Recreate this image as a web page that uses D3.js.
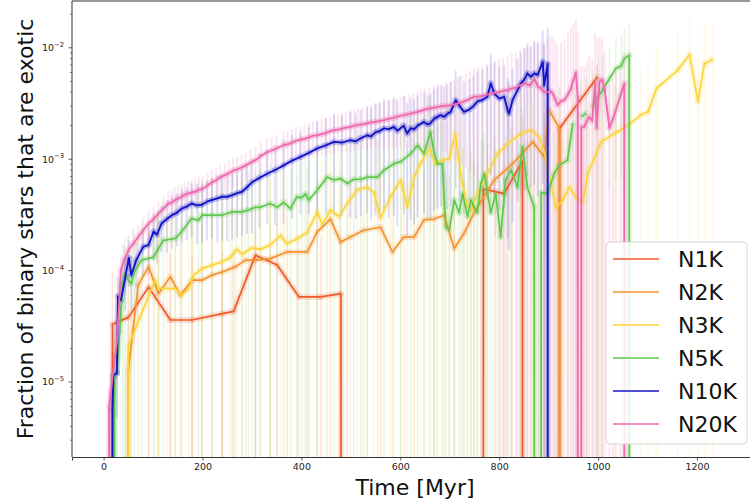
<!DOCTYPE html>
<html><head><meta charset="utf-8">
<script src="https://cdnjs.cloudflare.com/ajax/libs/d3/7.8.5/d3.min.js"></script>
<style>body{margin:0;background:#fff;} svg{display:block;font-family:"DejaVu Sans",sans-serif;}</style>
</head><body><svg id="chart" width="750" height="503"></svg>
<script>
// ---------- data: [time Myr, fraction, relative error] ----------
const seriesNames = ["N1K","N2K","N3K","N5K","N10K","N20K"];
const seriesColors = ["#f05a28","#f5922f","#fcd535","#5ec84a","#1414c8","#ef6aae"];

const N1K = [[0,0,0],[18,3.3e-5,2.0],[50,3.8e-5,2.5],[91,7.1e-5,2.2],[135,3.6e-5,3.0],[179,3.6e-5,2.8],[240,4.1e-5,2.6],[263,4.3e-5,2.6],[307,1.37e-4,1.8],[351,1.12e-4,2.0],[395,5.8e-5,2.4],[439,5.8e-5,2.5],[480,6.2e-5,2.2],[485,0,0],[763,0,0],[768,5.4e-4,1.6],[810,4.9e-4,1.8],[847,9.6e-4,1.5],[852,0,0],[917,0,0],[922,1.89e-3,1.4],[999,5.5e-3,1.2]];

const N2K = [[0,0,0],[50,1.26e-5,2.5],[70,7.4e-5,2.0],[91,1.08e-4,1.8],[111,6.2e-5,2.5],[135,8.8e-5,2.2],[155,6.0e-5,2.6],[179,8.2e-5,2.3],[199,8.2e-5,2.2],[219,9.1e-5,2.4],[240,9.7e-5,2.2],[266,1.08e-4,2.3],[287,1.24e-4,2.0],[307,1.24e-4,2.1],[337,1.28e-4,2.2],[371,1.47e-4,2.0],[412,1.47e-4,2.1],[432,2.22e-4,1.8],[459,2.9e-4,1.7],[479,1.8e-4,2.2],[499,2.0e-4,2.0],[526,2.3e-4,1.9],[560,2.45e-4,1.9],[584,1.47e-4,2.4],[607,2.0e-4,2.1],[628,2.0e-4,2.0],[648,2.85e-4,1.8],[668,2.9e-4,1.8],[689,3.14e-4,1.7],[709,1.58e-4,2.4],[729,2.16e-4,2.0],[749,3.3e-4,1.8],[790,6.5e-4,1.5],[827,9.1e-4,1.4],[868,1.43e-3,1.3],[891,1.05e-3,1.5],[901,2.76e-3,1.1],[922,1.89e-3,1.3],[926,0,0]];

const N3K = [[0,0,0],[50,2.1e-5,3],[104,8.2e-5,3],[111,6.9e-5,3.5],[128,6.9e-5,3.5],[145,6.9e-5,3.5],[157,6.0e-5,4],[172,6.9e-5,3.5],[182,9.1e-5,3],[199,1.04e-4,3],[219,1.12e-4,3.2],[240,1.2e-4,3.2],[255,1.3e-4,3],[270,1.55e-4,3],[280,1.4e-4,3.4],[300,1.6e-4,3],[317,1.55e-4,3.2],[337,1.7e-4,3],[358,2.07e-4,2.8],[371,1.74e-4,3],[391,1.93e-4,3],[412,2.2e-4,2.8],[432,3.36e-4,2.4],[442,2.6e-4,2.8],[459,3.5e-4,2.5],[476,3.05e-4,2.6],[493,4.0e-4,2.4],[513,5.3e-4,2.2],[533,5.6e-4,2.2],[547,5.0e-4,2.3],[560,2.95e-4,3],[580,4.6e-4,2.5],[601,6.5e-4,2.2],[614,3.7e-4,2.8],[628,6.9e-4,2.2],[641,9.1e-4,2],[658,1.25e-3,1.8],[671,9.1e-4,2],[685,9.8e-4,2],[699,1.0e-3,2],[711,1.7e-3,1.6],[723,6.9e-4,2.2],[736,3.7e-4,2.8],[743,3.5e-4,2.8],[756,4.9e-4,2.5],[776,7.4e-4,2.2],[797,1.12e-3,1.9],[817,1.38e-3,1.8],[844,1.7e-3,1.6],[864,1.83e-3,1.6],[881,1.58e-3,1.7],[894,1.05e-3,2],[915,3.6e-4,2.8],[928,4.3e-4,2.6],[942,5.6e-4,2.4],[955,4.6e-4,2.6],[969,4.1e-4,2.8],[979,7.4e-4,2.2],[1006,1.43e-3,1.8],[1033,1.7e-3,1.7],[1060,2.0e-3,1.6],[1087,2.5e-3,1.5],[1101,2.66e-3,1.5],[1118,4.3e-3,1.3],[1161,6.3e-3,1.2],[1185,8.7e-3,1.1],[1202,3.27e-3,1.6],[1215,7.2e-3,1.2],[1232,7.9e-3,1.1]];

const N5K = [[0,0,0],[22,1.15e-5,1.5],[27,1.2e-5,1.5],[39,7.9e-5,1.2],[43,9.1e-5,1.2],[56,7.6e-5,1.3],[62,9.7e-5,1.2],[77,1.24e-4,1.2],[101,1.32e-4,1.3],[111,1.58e-4,1.2],[121,1.87e-4,1.2],[145,1.94e-4,1.3],[158,2.24e-4,1.2],[178,2.93e-4,1.1],[192,2.83e-4,1.2],[199,3.14e-4,1.1],[219,3.14e-4,1.2],[239,3.14e-4,1.2],[260,3.36e-4,1.2],[280,3.36e-4,1.2],[293,3.5e-4,1.2],[307,3.7e-4,1.2],[317,3.7e-4,1.2],[337,4.0e-4,1.2],[351,3.7e-4,1.3],[364,4.1e-4,1.2],[378,3.6e-4,1.3],[391,4.6e-4,1.2],[401,4.5e-4,1.2],[408,4.9e-4,1.2],[415,4.3e-4,1.3],[432,5.26e-4,1.2],[452,6.9e-4,1.1],[466,6.5e-4,1.2],[479,6.7e-4,1.2],[493,6.05e-4,1.3],[506,6.6e-4,1.2],[520,6.6e-4,1.2],[533,6.9e-4,1.2],[554,6.9e-4,1.2],[567,7.95e-4,1.2],[587,9.1e-4,1.2],[601,9.5e-4,1.2],[621,1.12e-3,1.2],[635,1.33e-3,1.1],[648,1.12e-3,1.2],[661,1.76e-3,1.1],[668,1.16e-3,1.2],[675,9.1e-4,1.3],[685,9.1e-4,1.3],[692,2.45e-4,2],[699,2.3e-4,2],[709,4.3e-4,1.6],[719,3.3e-4,1.8],[726,4.9e-4,1.6],[736,3.05e-4,1.8],[743,4.3e-4,1.6],[749,3.7e-4,1.7],[756,3.3e-4,1.8],[763,6.05e-4,1.5],[770,7.4e-4,1.4],[776,5.1e-4,1.6],[783,3.3e-4,1.8],[793,4.9e-4,1.6],[803,2.0e-4,2.2],[813,6.5e-4,1.5],[824,8.0e-4,1.4],[837,5.6e-4,1.6],[847,1.29e-3,1.2],[857,5.6e-4,1.6],[871,3.7e-4,1.8],[878,0,0],[885,5.0e-4,1.6],[898,4.9e-4,1.6],[911,7.4e-4,1.4],[921,8.8e-4,1.4],[938,9.8e-4,1.3],[949,2.1e-3,1.1],[957,null,0],[966,2.4e-3,1.1],[976,2.6e-3,1.1],[983,null,0],[989,2.95e-3,1.1],[999,3.6e-3,1.0],[1009,4.16e-3,1.0],[1023,5.3e-3,0.9],[1036,6.5e-3,0.9],[1047,6.9e-3,0.9],[1053,8.0e-3,0.9],[1063,8.6e-3,0.9],[1067,0,0]];

const N10K = [[0,0,0],[18,5.6e-6,0.6],[20,1.15e-5,0.6],[27,1.2e-5,0.6],[29,5.9e-5,0.5],[35,5.4e-5,0.5],[44,8.8e-5,0.5],[51,1.3e-4,0.45],[56,9.1e-5,0.5],[66,1.24e-4,0.45],[80,1.63e-4,0.45],[91,1.7e-4,0.45],[101,2.24e-4,0.45],[108,2.1e-4,0.45],[117,2.64e-4,0.45],[128,2.9e-4,0.5],[138,3.14e-4,0.5],[148,3.3e-4,0.5],[158,3.6e-4,0.5],[168,3.75e-4,0.5],[178,4.0e-4,0.5],[189,3.85e-4,0.55],[199,3.9e-4,0.55],[209,4.15e-4,0.55],[219,4.3e-4,0.55],[230,4.45e-4,0.6],[240,4.6e-4,0.6],[250,4.6e-4,0.6],[260,4.75e-4,0.6],[270,4.95e-4,0.6],[280,5.1e-4,0.6],[290,5.6e-4,0.62],[300,6.2e-4,0.65],[315,6.8e-4,0.65],[331,7.4e-4,0.65],[347,8.0e-4,0.68],[364,8.8e-4,0.7],[381,9.7e-4,0.7],[398,1.05e-3,0.7],[415,1.14e-3,0.72],[432,1.25e-3,0.75],[449,1.33e-3,0.76],[466,1.43e-3,0.78],[482,1.41e-3,0.78],[499,1.48e-3,0.8],[510,1.45e-3,0.8],[520,1.54e-3,0.8],[533,1.64e-3,0.8],[541,1.6e-3,0.82],[550,1.75e-3,0.82],[558,1.78e-3,0.82],[567,1.89e-3,0.82],[577,1.86e-3,0.84],[587,1.95e-3,0.84],[594,1.8e-3,0.86],[607,2.0e-3,0.84],[614,1.7e-3,0.88],[621,1.9e-3,0.85],[628,1.85e-3,0.86],[635,2.0e-3,0.85],[648,2.16e-3,0.85],[655,2.05e-3,0.86],[661,2.1e-3,0.86],[668,2.3e-3,0.85],[675,2.4e-3,0.85],[682,2.48e-3,0.85],[689,2.4e-3,0.87],[695,2.55e-3,0.86],[702,2.66e-3,0.86],[712,3.39e-3,0.84],[720,3.0e-3,0.86],[729,2.66e-3,0.88],[740,2.8e-3,0.88],[748,3.0e-3,0.88],[756,3.3e-3,0.87],[766,3.4e-3,0.88],[776,3.63e-3,0.88],[783,4.8e-3,0.85],[790,3.9e-3,0.88],[800,3.5e-3,0.9],[810,3.63e-3,0.9],[817,2.76e-3,0.93],[820,2.57e-3,0.94],[827,3.39e-3,0.92],[837,4.17e-3,0.9],[844,4.8e-3,0.9],[851,5.2e-3,0.9],[857,5.9e-3,0.88],[864,5.5e-3,0.9],[871,5.9e-3,0.9],[878,5.7e-3,0.92],[888,7.5e-3,0.92],[891,4.6e-3,1.3],[898,7.2e-3,1.1],[901,0,0]];

const N20K = [[0,0,0],[11,5.9e-6,0.5],[18,1.1e-5,0.5],[27,2.3e-5,0.45],[35,1.0e-4,0.4],[42,1.25e-4,0.35],[50,1.52e-4,0.35],[60,1.75e-4,0.35],[70,2.0e-4,0.3],[80,2.3e-4,0.3],[91,2.64e-4,0.3],[101,2.9e-4,0.3],[111,3.25e-4,0.3],[121,3.6e-4,0.3],[131,4.0e-4,0.3],[138,4.1e-4,0.3],[145,4.3e-4,0.3],[151,4.45e-4,0.3],[158,4.6e-4,0.3],[164,4.8e-4,0.3],[171,4.9e-4,0.3],[178,5.0e-4,0.3],[185,5.1e-4,0.3],[192,5.3e-4,0.3],[200,5.4e-4,0.3],[210,5.8e-4,0.3],[219,6.2e-4,0.3],[228,6.5e-4,0.3],[236,6.9e-4,0.3],[245,7.2e-4,0.3],[253,7.5e-4,0.3],[262,7.9e-4,0.3],[270,8.1e-4,0.3],[279,8.4e-4,0.3],[287,8.8e-4,0.3],[297,9.3e-4,0.32],[307,9.8e-4,0.32],[318,1.07e-3,0.32],[330,1.15e-3,0.32],[340,1.2e-3,0.32],[350,1.25e-3,0.32],[364,1.34e-3,0.33],[372,1.36e-3,0.33],[380,1.4e-3,0.33],[389,1.46e-3,0.33],[398,1.5e-3,0.34],[406,1.52e-3,0.34],[415,1.57e-3,0.35],[423,1.62e-3,0.35],[432,1.64e-3,0.35],[441,1.68e-3,0.36],[450,1.72e-3,0.36],[458,1.78e-3,0.37],[466,1.82e-3,0.37],[474,1.84e-3,0.38],[482,1.88e-3,0.38],[490,1.92e-3,0.39],[499,1.95e-3,0.4],[507,2.0e-3,0.4],[515,2.03e-3,0.4],[524,2.06e-3,0.41],[533,2.1e-3,0.42],[541,2.14e-3,0.42],[550,2.17e-3,0.43],[558,2.2e-3,0.44],[567,2.24e-3,0.45],[576,2.3e-3,0.45],[585,2.35e-3,0.46],[592,2.4e-3,0.47],[600,2.45e-3,0.48],[609,2.5e-3,0.49],[618,2.55e-3,0.5],[626,2.6e-3,0.51],[635,2.66e-3,0.52],[642,2.72e-3,0.54],[650,2.8e-3,0.55],[659,2.85e-3,0.56],[668,2.9e-3,0.58],[676,2.95e-3,0.59],[685,3.0e-3,0.6],[693,3.02e-3,0.62],[702,3.05e-3,0.65],[709,3.1e-3,0.68],[716,3.16e-3,0.7],[724,3.25e-3,0.72],[733,3.35e-3,0.75],[741,3.5e-3,0.78],[749,3.63e-3,0.8],[758,3.65e-3,0.82],[766,3.7e-3,0.85],[775,3.8e-3,0.88],[783,3.9e-3,0.9],[792,3.95e-3,0.95],[800,4.0e-3,1.0],[808,4.1e-3,1.0],[817,4.16e-3,1.0],[825,4.3e-3,1.05],[834,4.4e-3,1.1],[842,4.6e-3,1.1],[851,4.8e-3,1.1],[857,4.7e-3,1.15],[863,4.6e-3,1.2],[871,5.3e-3,1.2],[878,4.5e-3,1.5],[885,4.3e-3,1.6],[891,4.0e-3,1.8],[898,4.0e-3,2.0],[903,4.1e-3,2.1],[908,3.9e-3,2.2],[913,3.5e-3,2.3],[918,3.05e-3,2.5],[925,3.3e-3,2.4],[932,3.4e-3,2.5],[939,3.8e-3,2.6],[945,4.3e-3,2.5],[950,5.1e-3,2.2],[955,6.0e-3,2.0],[959,3.6e-3,2.8],[962,0,0],[966,1.95e-3,2.5],[972,1.95e-3,2.5],[977,2.2e-3,2.5],[982,2.4e-3,2.5],[988,2.2e-3,2.6],[994,4.8e-3,1.8],[997,1.9e-3,2.6],[1003,5.0e-3,1.5],[1008,5.2e-3,1.4],[1013,4.3e-3,1.2],[1023,1.9e-3,1.5],[1030,2.3e-3,1.3],[1036,2.75e-3,1.2],[1045,3.7e-3,1.0],[1053,4.8e-3,0.9],[1056,0,0]];

const seriesData = [N1K, N2K, N3K, N5K, N10K, N20K];
const xTicks = [0,200,400,600,800,1000,1200];
const yTickExponents = [-5,-4,-3,-2];
const xLabel = "Time [Myr]";
const yLabel = "Fraction of binary stars that are exotic";

// ---------- layout ----------
const L = 72, R = 758, T = 1, B = 457;
const svg = d3.select("#chart");
const x = d3.scaleLinear().domain([-63.9, 1323.4]).range([L, R]);
const y = d3.scaleLog().domain([2.12e-6, 2.63e-2]).range([B, T]);
const tiny = 1e-100;
const yv = v => y(v > 0 ? v : tiny);

svg.append("defs").append("clipPath").attr("id","clip")
  .append("rect").attr("x",L).attr("y",T).attr("width",R-L).attr("height",B-T);

const plot = svg.append("g").attr("clip-path","url(#clip)");

// error bars
const barOpacity = [0.14, 0.14, 0.16, 0.14, 0.14, 0.17];
seriesData.forEach((data, i) => {
  const g = plot.append("g");
  data.filter(d => d[1] > 0 && d[2] > 0).forEach(d => {
    const hi = d[1]*(1+d[2]);
    const lo = d[1]*(1-d[2]);
    g.append("line")
      .attr("x1", x(d[0])).attr("x2", x(d[0]))
      .attr("y1", y(hi)).attr("y2", lo > 0 ? y(lo) : B+5)
      .attr("stroke", seriesColors[i])
      .attr("stroke-width", i >= 4 ? 2 : 1.6)
      .attr("stroke-opacity", barOpacity[i]);
  });
});

const line = d3.line().defined(d => d[1] !== null).x(d => x(d[0])).y(d => yv(d[1]));

// halos
seriesData.forEach((data, i) => {
  plot.append("path").datum(data).attr("d", line)
    .attr("fill","none").attr("stroke", seriesColors[i])
    .attr("stroke-width", 6).attr("stroke-opacity", 0.17)
    .attr("stroke-linejoin","round");
  plot.append("g").selectAll("circle").data(data.filter(d => d[1] > 0)).join("circle")
    .attr("cx", d => x(d[0])).attr("cy", d => y(d[1])).attr("r", 3.2)
    .attr("fill", seriesColors[i]).attr("fill-opacity", 0.12);
});
// lines
seriesData.forEach((data, i) => {
  plot.append("path").datum(data).attr("d", line)
    .attr("fill","none").attr("stroke", seriesColors[i])
    .attr("stroke-width", i >= 4 ? 1.9 : 1.7).attr("stroke-linejoin","round");
});

// ---------- axes ----------
const axisColor = "#333";
svg.append("line").attr("x1",L).attr("x2",L).attr("y1",T).attr("y2",B).attr("stroke",axisColor).attr("stroke-width",1);
svg.append("line").attr("x1",L).attr("x2",R).attr("y1",T).attr("y2",T).attr("stroke",axisColor).attr("stroke-width",1);

const xAxis = svg.append("g").attr("transform",`translate(0,${B})`)
  .call(d3.axisBottom(x).tickValues(xTicks).tickSize(3.5).tickPadding(3).tickFormat(d3.format("d")));
xAxis.select(".domain").attr("stroke",axisColor).attr("stroke-width",1);
xAxis.selectAll(".tick line").attr("stroke",axisColor).attr("stroke-width",0.8);
xAxis.selectAll(".tick text").attr("font-size","9.5px").attr("fill","#222").attr("font-family","DejaVu Sans");

const yMajor = yTickExponents.map(e => Math.pow(10, e));
const yMinor = [];
for (let e = -6; e <= -2; e++) for (let m = 2; m <= 9; m++) {
  const v = m*Math.pow(10,e);
  if (v >= 2.12e-6 && v <= 2.63e-2) yMinor.push(v);
}
const yAx = svg.append("g");
yAx.selectAll("line.mn").data(yMinor).join("line").attr("class","mn")
  .attr("x1",L-2).attr("x2",L).attr("y1",d=>y(d)).attr("y2",d=>y(d))
  .attr("stroke",axisColor).attr("stroke-width",0.6);
yAx.selectAll("line.mj").data(yMajor).join("line").attr("class","mj")
  .attr("x1",L-3.5).attr("x2",L).attr("y1",d=>y(d)).attr("y2",d=>y(d))
  .attr("stroke",axisColor).attr("stroke-width",0.8);
const yt = yAx.selectAll("text").data(yTickExponents).join("text")
  .attr("x", L-8).attr("y", e => y(Math.pow(10,e)) + 3.5)
  .attr("text-anchor","end").attr("fill","#222").attr("font-size","9.5px");
yt.append("tspan").text("10");
yt.append("tspan").attr("dy",-4.5).attr("font-size","6.8px").text(e => "\u2212" + Math.abs(e));

svg.append("text").attr("x", (L+R)/2).attr("y", 495).attr("text-anchor","middle")
  .attr("font-size","22px").attr("fill","#111").text(xLabel);
svg.append("text").attr("transform", `translate(33,${(T+B)/2}) rotate(-90)`)
  .attr("text-anchor","middle").attr("font-size","22px").attr("fill","#111").text(yLabel);

// ---------- legend ----------
const lg = svg.append("g");
lg.append("rect").attr("x",606).attr("y",242).attr("width",141).attr("height",202).attr("rx",4)
  .attr("fill","#fff").attr("fill-opacity",0.85).attr("stroke","#d5d5d5").attr("stroke-width",1);
seriesNames.forEach((n, i) => {
  const cy = 259 + i*33;
  lg.append("line").attr("x1",613).attr("x2",659).attr("y1",cy).attr("y2",cy)
    .attr("stroke",seriesColors[i]).attr("stroke-width",1.6);
  lg.append("text").attr("x",678).attr("y",cy+8).attr("font-size","22px").attr("fill","#111").text(n);
});
</script></body></html>
